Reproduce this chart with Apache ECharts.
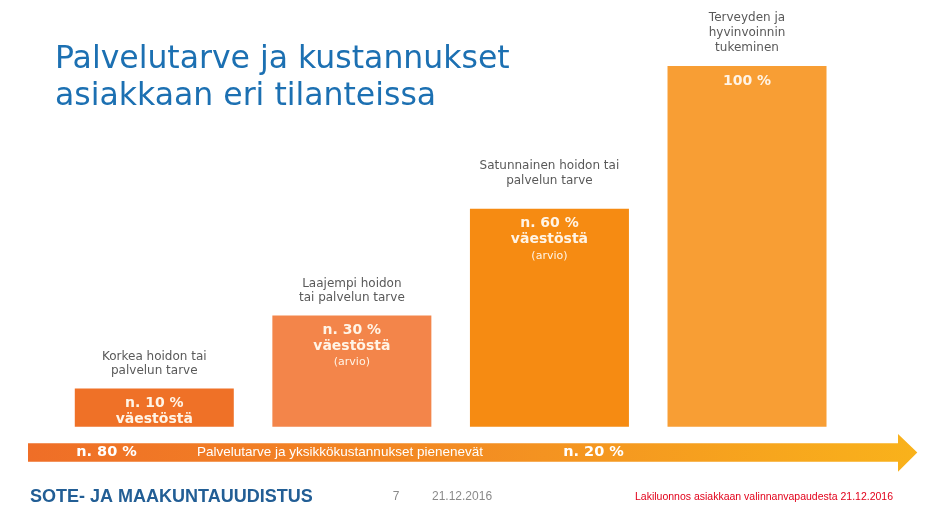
<!DOCTYPE html>
<html>
<head>
<meta charset="utf-8">
<script src="https://cdn.jsdelivr.net/npm/echarts@6/dist/echarts.min.js"></script>
<style>
html,body{margin:0;padding:0;background:#fff;}
#chart{width:931px;height:520px;}
</style>
</head>
<body>
<div id="chart"></div>
<script>
// ---- data ----
var categories = ['Korkea hoidon tai\npalvelun tarve', 'Laajempi hoidon\ntai palvelun tarve', 'Satunnainen hoidon tai\npalvelun tarve', 'Terveyden ja\nhyvinvoinnin\ntukeminen'];
var values = [10.6, 30.8, 60.4, 100];
var shareLabels = ['n. 10 %', 'n. 30 %', 'n. 60 %', '100 %'];
var subLabels = ['väestöstä', 'väestöstä', 'väestöstä', ''];
var noteLabels = ['', '(arvio)', '(arvio)', ''];
var barColors = ['#EF7127', '#F3854A', '#F68B12', '#F89E34'];
var catLabelGap = [10, 10, 21, 11];
var arrowTexts = ['n. 80 %', 'Palvelutarve ja yksikkökustannukset pienenevät', 'n. 20 %'];
var titleText = 'Palvelutarve ja kustannukset\nasiakkaan eri tilanteissa';
var footerLeft = 'SOTE- JA MAAKUNTAUUDISTUS';
var footerPage = '7';
var footerDate = '21.12.2016';
var footerRight = 'Lakiluonnos asiakkaan valinnanvapaudesta 21.12.2016';

function insideLabel(i) {
  var s = '{b|' + shareLabels[i] + '}';
  if (subLabels[i]) s += '\n{b|' + subLabels[i] + '}';
  if (noteLabels[i]) s += '\n{s|' + noteLabels[i] + '}';
  return s;
}

var chart = echarts.init(document.getElementById('chart'));
var option = {
  animation: false,
  title: {
    text: titleText,
    left: 55, top: 41, padding: 0,
    textStyle: { fontFamily: 'DejaVu Sans', fontSize: 31.5, fontWeight: 'normal', color: '#1C70B2', lineHeight: 37 }
  },
  grid: { left: 55.5, right: 85.2, top: 66, bottom: 93.3 },
  xAxis: { type: 'category', data: categories, show: false },
  yAxis: { type: 'value', min: 0, max: 100, show: false },
  series: [
    {
      type: 'bar', barWidth: 159,
      data: values.map(function (v, i) {
        return { value: v, itemStyle: { color: barColors[i] },
          label: { formatter: insideLabel(i) } };
      }),
      label: {
        show: true, position: 'insideTop', distance: 7,
        rich: {
          b: { fontFamily: 'DejaVu Sans', fontWeight: 'bold', fontSize: 14, lineHeight: 16, color: '#FFF4E6' },
          s: { fontFamily: 'DejaVu Sans', fontSize: 11, lineHeight: 16, color: '#FFF4E6' }
        }
      }
    },
    {
      type: 'bar', barWidth: 159, barGap: '-100%', silent: true,
      itemStyle: { color: 'rgba(0,0,0,0)' },
      data: values.map(function (v, i) {
        return { value: v, label: { distance: catLabelGap[i] } };
      }),
      label: {
        show: true, position: 'top',
        formatter: function (p) { return categories[p.dataIndex]; },
        fontFamily: 'DejaVu Sans', fontSize: 12, lineHeight: 14.7, color: '#595959', align: 'center'
      }
    }
  ],
  graphic: [
    {
      type: 'polygon', z: 10,
      shape: { points: [[28, 443.3], [898, 443.3], [898, 434], [917.3, 452.5], [898, 471.7], [898, 461.7], [28, 461.7]] },
      style: {
        fill: new echarts.graphic.LinearGradient(0, 0, 1, 0, [
          { offset: 0, color: '#EF6E27' },
          { offset: 0.5, color: '#F38D22' },
          { offset: 1, color: '#F9B21B' }
        ])
      }
    },
    { type: 'text', z: 11, x: 106.5, y: 452.5,
      style: { text: arrowTexts[0], fill: '#FFFFFF', font: 'bold 14.5px "DejaVu Sans"', align: 'center', verticalAlign: 'middle' } },
    { type: 'text', z: 11, x: 340, y: 452.5,
      style: { text: arrowTexts[1], fill: '#FFFFFF', font: '13.5px "Liberation Sans"', align: 'center', verticalAlign: 'middle' } },
    { type: 'text', z: 11, x: 593.5, y: 452.5,
      style: { text: arrowTexts[2], fill: '#FFFFFF', font: 'bold 14.5px "DejaVu Sans"', align: 'center', verticalAlign: 'middle' } },
    { type: 'text', x: 30, y: 497,
      style: { text: footerLeft, fill: '#225E95', font: 'bold 18px "Liberation Sans"', align: 'left', verticalAlign: 'middle' } },
    { type: 'text', x: 396, y: 497,
      style: { text: footerPage, fill: '#8A8A8A', font: '12px "Liberation Sans"', align: 'center', verticalAlign: 'middle' } },
    { type: 'text', x: 432, y: 497,
      style: { text: footerDate, fill: '#8A8A8A', font: '12px "Liberation Sans"', align: 'left', verticalAlign: 'middle' } },
    { type: 'text', x: 893, y: 497,
      style: { text: footerRight, fill: '#E2001A', font: '10.5px "Liberation Sans"', align: 'right', verticalAlign: 'middle' } }
  ]
};
chart.setOption(option);
</script>
</body>
</html>
